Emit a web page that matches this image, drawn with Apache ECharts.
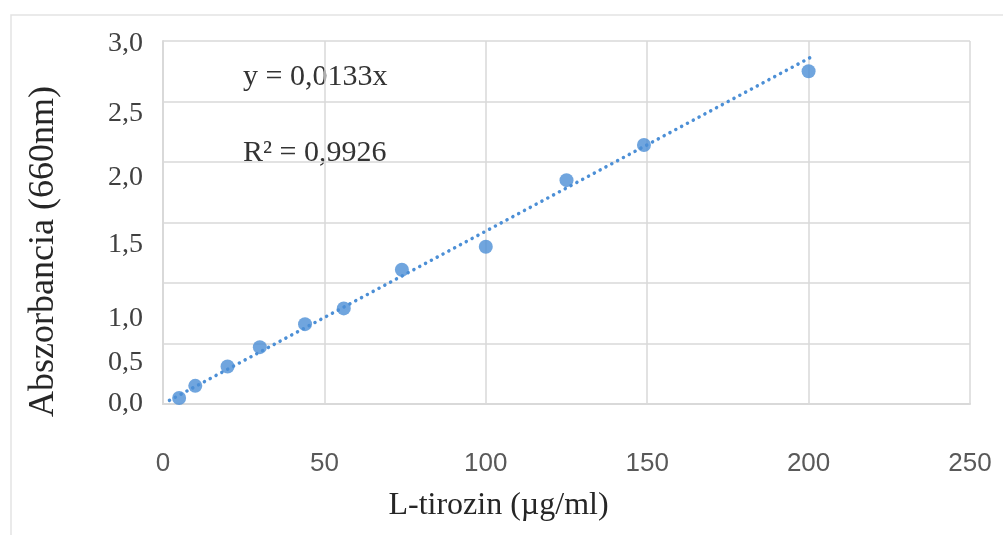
<!DOCTYPE html>
<html><head><meta charset="utf-8">
<script src="https://cdn.jsdelivr.net/npm/echarts@6/dist/echarts.min.js"></script>
<style>html,body{margin:0;padding:0;background:#fff}#c{width:1003px;height:535px}</style>
</head><body><div id="c"></div>
<script>
// ---- data ----
const concentration = [5, 10, 20, 30, 44, 56, 74, 100, 125, 149, 200];
const absorbance = [0.05, 0.15, 0.31, 0.47, 0.66, 0.79, 1.11, 1.30, 1.85, 2.14, 2.75];
const trendX = [2, 201];
const trendY = [0.03, 2.87];
const yTickLabels = ['0,0', '0,5', '1,0', '1,5', '2,0', '2,5', '3,0'];
const xAxisTitle = 'L-tirozin (µg/ml)';
const yAxisTitle = 'Abszorbancia (660nm)';
const equationText = 'y = 0,0133x';
const r2Text = 'R² = 0,9926';

// ---- style ----
const blue = '#4C8FD6';
const grid = '#d9d9d9';
const serif = '"Liberation Serif", "DejaVu Serif", serif';
const labelShift = [0, 19, 36, 22, 16, 12, 3];
const rich = {};
labelShift.forEach((d, k) => {
  rich['l' + k] = { padding: [2 * d, 0, 0, 0], fontSize: 28, fontFamily: serif, color: '#404040' };
});

const chart = echarts.init(document.getElementById('c'), null, { renderer: 'canvas' });
chart.setOption({
  animation: false,
  backgroundColor: '#fff',
  grid: { left: 163, top: 41, right: 33, bottom: 131, containLabel: false },
  xAxis: {
    type: 'value', min: 0, max: 250, interval: 50,
    axisLine: { show: true, lineStyle: { color: grid, width: 2 } },
    axisTick: { show: false },
    splitLine: { show: true, lineStyle: { color: grid, width: 1.5 } },
    axisLabel: { margin: 47, fontSize: 26, fontFamily: '"Liberation Sans", "DejaVu Sans", sans-serif', color: '#595959' },
    name: xAxisTitle, nameLocation: 'middle', nameGap: 86,
    nameTextStyle: { fontSize: 32, fontFamily: serif, color: '#262626', padding: [0, 136, 0, 0] }
  },
  yAxis: {
    type: 'value', min: 0, max: 3, interval: 0.5,
    axisLine: { show: true, lineStyle: { color: grid, width: 2 } },
    axisTick: { show: false },
    splitLine: { show: true, lineStyle: { color: grid, width: 1.5 } },
    axisLabel: {
      margin: 20,
      formatter: function (v) { const k = Math.round(v * 2); return '{l' + k + '|' + yTickLabels[k] + '}'; },
      rich: rich
    },
    name: yAxisTitle, nameLocation: 'middle', nameGap: 101,
    nameTextStyle: { fontSize: 36, fontFamily: serif, color: '#262626', padding: [0, 58, 0, 0] }
  },
  graphic: [
    { type: 'rect', shape: { x: 11, y: 15, width: 1000, height: 530 }, style: { fill: 'none', stroke: '#e3e3e3', lineWidth: 1.5 }, z: -1 },
    { type: 'text', x: 243, y: 77, style: { text: equationText, fontSize: 30, fontFamily: serif, fill: '#333', verticalAlign: 'middle' } },
    { type: 'text', x: 243, y: 153, style: { text: r2Text, fontSize: 30, fontFamily: serif, fill: '#333', verticalAlign: 'middle' } }
  ],
  series: [
    {
      type: 'line', data: trendX.map((x, i) => [x, trendY[i]]), showSymbol: false, silent: true, z: 2,
      lineStyle: { color: blue, width: 3.5, type: [0.1, 6.5], cap: 'round' }
    },
    {
      type: 'scatter', data: concentration.map((x, i) => [x, absorbance[i]]), symbol: 'circle', symbolSize: 14, z: 3,
      itemStyle: { color: blue }
    }
  ]
});
</script></body></html>
